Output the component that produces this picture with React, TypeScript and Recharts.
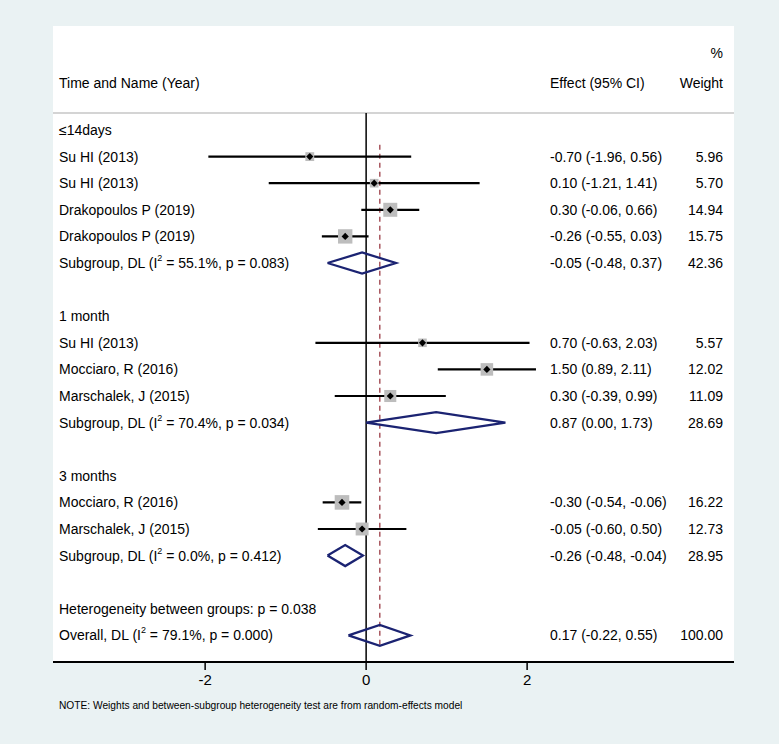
import React from 'react';
import {ComposedChart, Scatter, XAxis, YAxis, ErrorBar, ReferenceLine, CartesianGrid} from 'recharts';

if (typeof document !== 'undefined') document.body.style.margin = '0';

// rows from top to bottom of the plot
const rowKinds = [
  'group', 'study', 'study', 'study', 'study', 'pooled', 'blank',
  'group', 'study', 'study', 'study', 'pooled', 'blank',
  'group', 'study', 'study', 'pooled', 'blank',
  'text', 'pooled',
];
const rowLabels = [
  '≤14days', 'Su HI (2013)', 'Su HI (2013)', 'Drakopoulos P (2019)', 'Drakopoulos P (2019)', 'Subgroup, DL', '',
  '1 month', 'Su HI (2013)', 'Mocciaro, R (2016)', 'Marschalek, J (2015)', 'Subgroup, DL', '',
  '3 months', 'Mocciaro, R (2016)', 'Marschalek, J (2015)', 'Subgroup, DL', '',
  'Heterogeneity between groups: p = 0.038', 'Overall, DL',
];
const estimates = [
  null, -0.7, 0.1, 0.3, -0.26, -0.05, null,
  null, 0.7, 1.5, 0.3, 0.87, null,
  null, -0.3, -0.05, -0.26, null,
  null, 0.17,
];
const lowerCI = [
  null, -1.96, -1.21, -0.06, -0.55, -0.48, null,
  null, -0.63, 0.89, -0.39, 0.0, null,
  null, -0.54, -0.6, -0.48, null,
  null, -0.22,
];
const upperCI = [
  null, 0.56, 1.41, 0.66, 0.03, 0.37, null,
  null, 2.03, 2.11, 0.99, 1.73, null,
  null, -0.06, 0.5, -0.04, null,
  null, 0.55,
];
const weights = [
  null, 5.96, 5.7, 14.94, 15.75, 42.36, null,
  null, 5.57, 12.02, 11.09, 28.69, null,
  null, 16.22, 12.73, 28.95, null,
  null, 100.0,
];
const i2Values = [
  null, null, null, null, null, 55.1, null,
  null, null, null, null, 70.4, null,
  null, null, null, 0.0, null,
  null, 79.1,
];
const pValues = [
  null, null, null, null, null, 0.083, null,
  null, null, null, null, 0.034, null,
  null, null, null, 0.412, null,
  null, 0.0,
];
const xTicks = [-2, 0, 2];
const headerLeft = 'Time and Name (Year)';
const headerEffect = 'Effect (95% CI)';
const headerWeight = 'Weight';
const headerPct = '%';
const noteText = 'NOTE: Weights and between-subgroup heterogeneity test are from random-effects model';

const W = 779;
const H = 744;
const FONT = '"Liberation Sans", Arial, Helvetica, sans-serif';
const FS = 14;
const NAVY = '#1b2372';
const MAROON = '#9b3c46';
const BOX = '#bdbdbd';
const BG = '#eaf2f3';

const X_DOMAIN: [number, number] = [-3.89, 4.57];
const Y_DOMAIN: [number, number] = [-3.91, 20];
const HEADER_LINE_ROW = -0.64;
const DIAMOND_HALF = 0.395;

const LABEL_X = 59;
const EFFECT_X = 550;
const WEIGHT_X = 723;

const rows = rowKinds.map((kind, i) => ({
  row: i,
  kind,
  label: rowLabels[i],
  est: estimates[i],
  lo: lowerCI[i],
  hi: upperCI[i],
  w: weights[i],
  i2: i2Values[i],
  p: pValues[i],
  x: 0,
}));

const studies = rows
  .filter((r) => r.kind === 'study')
  .map((r) => ({
    ...r,
    x: r.est as number,
    err: [(r.est as number) - (r.lo as number), (r.hi as number) - (r.est as number)],
  }));
const pooled = rows.filter((r) => r.kind === 'pooled');
const overall = pooled[pooled.length - 1];

const headerRows = [
  {row: -1.77, x: 0, left: headerLeft, effect: headerEffect, weight: headerWeight},
  {row: -2.9, x: 0, left: '', effect: '', weight: headerPct},
];

const txt = {fontFamily: FONT, fontSize: FS, fill: '#000'};

const TextRow = (props: any) => {
  const {cy, payload} = props;
  const r = payload;
  let label: React.ReactNode = r.label;
  if (r.kind === 'pooled') {
    label = (
      <>
        {r.label} (I
        <tspan dy={-5} fontSize={9}>2</tspan>
        <tspan dy={5}>{` = ${r.i2.toFixed(1)}%, p = ${r.p.toFixed(3)})`}</tspan>
      </>
    );
  }
  const hasEst = r.est !== null && r.est !== undefined;
  return (
    <g>
      <text x={LABEL_X} y={cy} dominantBaseline='central' {...txt}>{label}</text>
      {hasEst && (
        <text x={EFFECT_X} y={cy} dominantBaseline='central' {...txt}>
          {`${r.est.toFixed(2)} (${r.lo.toFixed(2)}, ${r.hi.toFixed(2)})`}
        </text>
      )}
      {hasEst && (
        <text x={WEIGHT_X} y={cy} dominantBaseline='central' textAnchor='end' {...txt}>
          {r.w.toFixed(2)}
        </text>
      )}
    </g>
  );
};

const HeaderRow = (props: any) => {
  const {cy, payload} = props;
  return (
    <g>
      {payload.left && <text x={LABEL_X} y={cy} dominantBaseline='central' {...txt}>{payload.left}</text>}
      {payload.effect && <text x={EFFECT_X} y={cy} dominantBaseline='central' {...txt}>{payload.effect}</text>}
      <text x={WEIGHT_X} y={cy} dominantBaseline='central' textAnchor='end' {...txt}>{payload.weight}</text>
    </g>
  );
};

const WeightBox = (props: any) => {
  const {cx, cy, payload} = props;
  const s = 3.62 * Math.sqrt(payload.w);
  return <rect x={cx - s / 2} y={cy - s / 2} width={s} height={s} fill={BOX} />;
};

const PointMark = (props: any) => {
  const {cx, cy} = props;
  const a = 3.6;
  return <path d={`M${cx - a},${cy}L${cx},${cy - a}L${cx + a},${cy}L${cx},${cy + a}Z`} fill='#000' />;
};

const Nothing = () => <g />;

export default function App() {
  return (
    <div style={{width: W, height: H, background: BG, position: 'relative'}}>
      <ComposedChart width={W} height={H} margin={{top: 26, right: 45, bottom: 52, left: 53}}>
        <CartesianGrid horizontal={false} vertical={false} fill='#ffffff' stroke='none' />
        <XAxis
          type='number'
          dataKey='x'
          domain={X_DOMAIN}
          allowDataOverflow
          ticks={xTicks}
          height={30}
          tickSize={8}
          tickMargin={4}
          axisLine={{stroke: '#000', strokeWidth: 2}}
          tickLine={{stroke: '#000', strokeWidth: 1.5}}
          tick={{fontFamily: FONT, fontSize: 15, fill: '#000'}}
        />
        <YAxis type='number' dataKey='row' domain={Y_DOMAIN} allowDataOverflow reversed hide />
        <ReferenceLine y={HEADER_LINE_ROW} stroke='#c6c6c6' strokeWidth={1.5} />
        <ReferenceLine
          segment={[{x: 0, y: HEADER_LINE_ROW}, {x: 0, y: Y_DOMAIN[1]}]}
          stroke='#000'
          strokeWidth={1.5}
        />
        <ReferenceLine
          segment={[{x: overall.est as number, y: 0.55}, {x: overall.est as number, y: 19.45}]}
          stroke={MAROON}
          strokeWidth={1.3}
          strokeDasharray='5 4'
        />
        <Scatter data={studies} shape={<WeightBox />} isAnimationActive={false} />
        <Scatter data={studies} shape={<PointMark />} isAnimationActive={false}>
          <ErrorBar dataKey='err' direction='x' width={0} stroke='#000' strokeWidth={2.2} />
        </Scatter>
        {pooled.map((r, i) => (
          <Scatter
            key={`d${i}`}
            data={[
              {x: r.lo, row: r.row},
              {x: r.est, row: r.row - DIAMOND_HALF},
              {x: r.hi, row: r.row},
              {x: r.est, row: r.row + DIAMOND_HALF},
              {x: r.lo, row: r.row},
            ]}
            fill={NAVY}
            line={{stroke: NAVY, strokeWidth: 2.3, fill: 'none'}}
            lineType='joint'
            shape={<Nothing />}
            isAnimationActive={false}
          />
        ))}
        <Scatter data={rows} shape={<TextRow />} isAnimationActive={false} />
        <Scatter data={headerRows} shape={<HeaderRow />} isAnimationActive={false} />
      </ComposedChart>
      <div
        style={{
          position: 'absolute',
          left: LABEL_X,
          top: 700,
          fontFamily: FONT,
          fontSize: 10.2,
          color: '#000',
          whiteSpace: 'nowrap',
        }}
      >
        {noteText}
      </div>
    </div>
  );
}
